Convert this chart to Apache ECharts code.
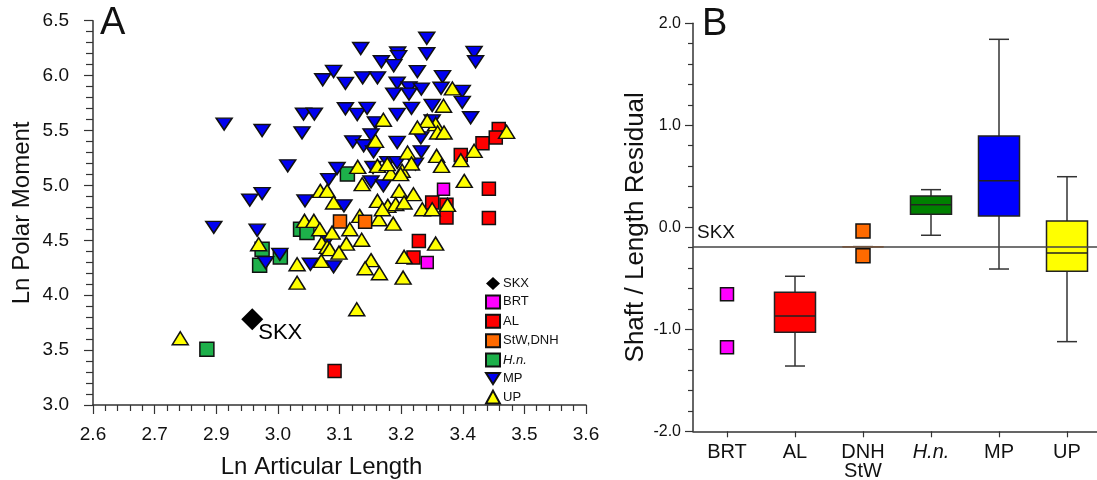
<!DOCTYPE html>
<html>
<head>
<meta charset="utf-8">
<title>Polar moment and shaft residual</title>
<script src="https://cdn.jsdelivr.net/npm/echarts@6/dist/echarts.min.js"></script>
<style>
  html, body { margin: 0; padding: 0; background: #fff; }
  #chart { width: 1097px; height: 480px; }
</style>
</head>
<body>
<div id="chart"></div>
<script>
// ---- panel A : Ln articular length vs Ln polar moment ----
var skx = [[2.923, 3.781]];
var brt = [[3.311, 4.966], [3.278, 4.297]];
var al = [[3.423, 5.513], [3.417, 5.436], [3.390, 5.383], [3.346, 5.278], [3.403, 4.969], [3.288, 4.844],
  [3.317, 4.823], [3.317, 4.707], [3.403, 4.704], [3.261, 4.494], [3.250, 4.344], [3.090, 3.309]];
var stwDnh = [[3.101, 4.672], [3.152, 4.670]];
var hn = [[3.116, 5.103], [3.021, 4.601], [3.034, 4.570], [2.943, 4.419], [2.938, 4.273], [2.980, 4.349], [2.831, 3.507]];
var mp = [[3.277, 6.340], [3.143, 6.247], [3.218, 6.206], [3.220, 6.172], [3.185, 6.126], [3.210, 6.090], [3.088, 6.038],
  [3.066, 5.962], [3.112, 5.930], [3.147, 5.980], [3.177, 5.980], [3.217, 5.932], [3.210, 5.832], [3.241, 5.889],
  [3.266, 5.877], [3.241, 5.832], [3.258, 6.037], [3.277, 6.199], [3.309, 5.990], [3.306, 5.885], [3.373, 6.211],
  [3.376, 6.126], [3.349, 5.857], [3.349, 5.757], [3.366, 5.616], [3.288, 5.728], [3.246, 5.702], [3.027, 5.650],
  [3.049, 5.650], [3.024, 5.479], [3.112, 5.698], [3.136, 5.646], [3.156, 5.702], [3.173, 5.570], [3.217, 5.646],
  [3.164, 5.461], [3.127, 5.397], [3.149, 5.361], [3.169, 5.306], [3.217, 5.391], [3.265, 5.433], [3.288, 5.588],
  [3.266, 5.306], [2.866, 5.558], [2.943, 5.500], [2.995, 5.178], [2.918, 4.866], [2.943, 4.926], [2.845, 4.618],
  [2.933, 4.592], [2.950, 4.297], [2.979, 4.372], [3.030, 4.859], [3.095, 5.154], [3.078, 5.053], [3.164, 5.032],
  [3.189, 4.996], [3.198, 5.208], [3.217, 5.208], [3.109, 4.814], [3.075, 4.501], [3.041, 4.282], [3.088, 4.258],
  [3.254, 5.194], [3.168, 5.163]];
var up = [[3.189, 5.598], [3.173, 5.406], [3.329, 5.883], [3.311, 5.725], [3.295, 5.558], [3.278, 5.588], [3.299, 5.482],
  [3.312, 5.482], [3.258, 5.527], [3.238, 5.299], [3.297, 5.269], [3.439, 5.488], [3.373, 5.315], [3.346, 5.230],
  [3.307, 5.178], [3.353, 5.041], [3.250, 4.920], [3.227, 5.133], [3.295, 4.470], [3.231, 4.349], [3.229, 4.160],
  [3.135, 3.872], [3.014, 4.282], [3.014, 4.114], [3.063, 4.312], [3.164, 4.319], [3.152, 4.245], [3.181, 4.200],
  [2.936, 4.464], [3.064, 4.476], [3.075, 4.440], [3.080, 4.420], [3.114, 4.470], [3.145, 4.505], [3.099, 4.388],
  [2.777, 3.608], [3.029, 4.677], [3.048, 4.677], [3.137, 5.169], [3.146, 5.011], [3.177, 5.178], [3.204, 5.108],
  [3.224, 5.103], [3.221, 4.950], [3.177, 4.859], [3.198, 4.814], [3.214, 4.829], [3.231, 4.844], [3.061, 4.950],
  [3.075, 4.950], [3.088, 4.844], [3.141, 4.722], [3.180, 4.692], [3.209, 4.652], [3.060, 4.601], [3.085, 4.570],
  [3.121, 4.601], [3.246, 5.199], [3.197, 5.194], [3.187, 4.783], [3.268, 4.783], [3.288, 4.783], [3.319, 4.823]];
var legendNames = ['SKX', 'BRT', 'AL', 'StW,DNH', 'H.n.', 'MP', 'UP'];
// printed tick labels (ticks every 0.125, rounded to one decimal)
var xTickLabels = ['2.6', '2.7', '2.9', '3.0', '3.1', '3.2', '3.4', '3.5', '3.6'];

// ---- panel B : shaft / length residual ----
var groups = ['BRT', 'AL', 'DNH\nStW', 'H.n.', 'MP', 'UP'];
var brtResid = [-0.657, -1.176];
var dnhResid = [-0.036, -0.278];
// [group index, min, q1, median, q3, max]
var boxes = [
  [1, -1.36, -1.03, -0.87, -0.637, -0.48],
  [2, -0.19, -0.19, -0.19, -0.19, -0.19],
  [3, -0.078, 0.127, 0.222, 0.307, 0.369],
  [4, -0.409, 0.111, 0.457, 0.895, 1.843],
  [5, -1.121, -0.431, -0.252, 0.062, 0.496]
];
var skxResid = -0.19;

var FONT = 'Liberation Sans, Arial, sans-serif';
var INK = '#111';
var boxFill = ['#ff0000', '#ff6a00', '#008000', '#0000ff', '#ffff00'];
var boxEdge = ['#222', '#ff8a3a', '#222', '#222', '#222'];
var downTri = 'path://M0,0 L10,0 L5,8 Z';

var chart = echarts.init(document.getElementById('chart'));

function pt(color, size, symbol) {
  return {
    symbol: symbol, symbolSize: size,
    itemStyle: { color: color, borderColor: '#111', borderWidth: 1.5, opacity: 1 },
    emphasis: { disabled: true }
  };
}

function renderBox(params, api) {
  var g = api.value(0);
  var lo = api.coord([g, api.value(1)]);
  var q1 = api.coord([g, api.value(2)]);
  var md = api.coord([g, api.value(3)]);
  var q3 = api.coord([g, api.value(4)]);
  var hi = api.coord([g, api.value(5)]);
  var cx = lo[0], bw = 41, cw = 20;
  var i = params.dataIndex;
  var wl = { stroke: '#333', lineWidth: 1.5 };
  return {
    type: 'group',
    children: [
      { type: 'line', shape: { x1: cx, y1: hi[1], x2: cx, y2: lo[1] }, style: wl },
      { type: 'line', shape: { x1: cx - cw / 2, y1: hi[1], x2: cx + cw / 2, y2: hi[1] }, style: wl },
      { type: 'line', shape: { x1: cx - cw / 2, y1: lo[1], x2: cx + cw / 2, y2: lo[1] }, style: wl },
      { type: 'rect', shape: { x: cx - bw / 2, y: q3[1], width: bw, height: q1[1] - q3[1] },
        style: { fill: boxFill[i], stroke: boxEdge[i], lineWidth: 1.5 } },
      { type: 'line', shape: { x1: cx - bw / 2, y1: md[1], x2: cx + bw / 2, y2: md[1] },
        style: { stroke: boxEdge[i], lineWidth: 1.5 } }
    ]
  };
}

var axisLine = { show: true, onZero: false, lineStyle: { color: '#333', width: 1.5 } };
var tickStyle = { color: '#333', width: 1.2 };

var option = {
  animation: false,
  textStyle: { fontFamily: FONT },
  graphic: [
    { type: 'text', x: 100, y: 5, style: { text: 'A', font: '38px ' + FONT, fill: INK } },
    { type: 'text', x: 702, y: 6, style: { text: 'B', font: '38px ' + FONT, fill: INK } }
  ],
  legend: {
    data: legendNames,
    orient: 'vertical', left: 485, top: 277, padding: 0,
    itemWidth: 14, itemHeight: 13, itemGap: 4.4, selectedMode: false,
    textStyle: { fontSize: 13, color: INK, fontFamily: FONT, padding: [0, 0, 0, -2],
      rich: { i: { fontStyle: 'italic', fontSize: 13, fontFamily: FONT, color: INK } } },
    formatter: function (n) { return n === 'H.n.' ? '{i|H.n.}' : n; }
  },
  grid: [
    { left: 93, top: 20.7, width: 493, height: 384.3, outerBoundsMode: 'none' },
    { left: 693, top: 23.3, width: 408, height: 408, outerBoundsMode: 'none' }
  ],
  xAxis: [
    {
      gridIndex: 0, type: 'value', min: 2.6, max: 3.6, interval: 0.125,
      axisLine: axisLine,
      axisTick: { show: true, length: 9, lineStyle: tickStyle },
      minorTick: { show: true, splitNumber: 5, length: 6, lineStyle: tickStyle },
      splitLine: { show: false },
      axisLabel: { fontSize: 19, color: INK, margin: 20,
        formatter: function (v, i) { return xTickLabels[i] || v.toFixed(1); } },
      name: 'Ln Articular Length', nameLocation: 'middle', nameGap: 50,
      nameTextStyle: { fontSize: 24, color: INK, padding: [0, 36, 0, 0] }
    },
    {
      gridIndex: 1, type: 'category', data: groups, boundaryGap: true,
      axisLine: axisLine,
      axisTick: { show: true, alignWithLabel: true, length: 6, lineStyle: tickStyle },
      splitLine: { show: false },
      axisLabel: { fontSize: 20, color: INK, margin: 12, lineHeight: 19, interval: 0,
        rich: { i: { fontStyle: 'italic', fontSize: 20, fontFamily: FONT, color: INK } },
        formatter: function (v) { return v === 'H.n.' ? '{i|H.n.}' : v; } }
    }
  ],
  yAxis: [
    {
      gridIndex: 0, type: 'value', min: 3, max: 6.5, interval: 0.5,
      axisLine: axisLine,
      axisTick: { show: true, length: 9, lineStyle: tickStyle },
      minorTick: { show: true, splitNumber: 5, length: 7, lineStyle: tickStyle },
      splitLine: { show: false },
      axisLabel: { fontSize: 19, color: INK, margin: 24, formatter: function (v) { return v.toFixed(1); } },
      name: 'Ln Polar Moment', nameLocation: 'middle', nameGap: 59,
      nameTextStyle: { fontSize: 24, color: INK }
    },
    {
      gridIndex: 1, type: 'value', min: -2, max: 2, interval: 1,
      axisLine: axisLine,
      axisTick: { show: true, length: 8, lineStyle: tickStyle },
      minorTick: { show: true, splitNumber: 5, length: 5, lineStyle: tickStyle },
      splitLine: { show: false },
      axisLabel: { fontSize: 16, color: INK, margin: 12, formatter: function (v) { return v.toFixed(1); } },
      name: 'Shaft / Length Residual', nameLocation: 'middle', nameGap: 44,
      nameTextStyle: { fontSize: 26, color: INK }
    }
  ],
  series: [
    Object.assign({ name: 'H.n.', type: 'scatter', xAxisIndex: 0, yAxisIndex: 0, data: hn, z: 2 }, pt('#1db04a', 14, 'rect')),
    Object.assign({ name: 'AL', type: 'scatter', xAxisIndex: 0, yAxisIndex: 0, data: al, z: 3 }, pt('#ff0000', 13, 'rect')),
    Object.assign({ name: 'BRT', type: 'scatter', xAxisIndex: 0, yAxisIndex: 0, data: brt, z: 3 }, pt('#ff00ff', 12, 'rect')),
    Object.assign({ name: 'MP', type: 'scatter', xAxisIndex: 0, yAxisIndex: 0, data: mp, z: 4 }, pt('#0000f0', [16, 12], downTri)),
    Object.assign({ name: 'UP', type: 'scatter', xAxisIndex: 0, yAxisIndex: 0, data: up, z: 5 }, pt('#ffff00', [16, 13], 'triangle')),
    Object.assign({ name: 'StW,DNH', type: 'scatter', xAxisIndex: 0, yAxisIndex: 0, data: stwDnh, z: 6 }, pt('#ff6a00', 13, 'rect')),
    {
      name: 'SKX', type: 'scatter', xAxisIndex: 0, yAxisIndex: 0, data: skx, z: 7,
      symbol: 'diamond', symbolSize: 22, itemStyle: { color: '#000', opacity: 1 },
      emphasis: { disabled: true },
      label: { show: true, formatter: 'SKX', position: 'right', distance: 0, offset: [-5, 14],
        fontSize: 22, color: '#000', opacity: 1, fontFamily: FONT }
    },
    {
      name: 'bBox', type: 'custom', xAxisIndex: 1, yAxisIndex: 1, data: boxes,
      renderItem: renderBox, encode: { x: 0, y: [1, 2, 3, 4, 5] }, z: 2
    },
    Object.assign({
      name: 'bBRT', type: 'scatter', xAxisIndex: 1, yAxisIndex: 1, z: 3,
      data: brtResid.map(function (v) { return [0, v]; })
    }, pt('#ff00ff', 13, 'rect')),
    Object.assign({
      name: 'bDNH', type: 'scatter', xAxisIndex: 1, yAxisIndex: 1, z: 6,
      data: dnhResid.map(function (v) { return [2, v]; }),
      markLine: {
        silent: true, symbol: 'none', animation: false,
        lineStyle: { color: '#444', type: 'solid', width: 1.5 },
        label: { show: true, formatter: 'SKX', position: 'insideStartTop', distance: 4,
          fontSize: 19, color: INK, fontFamily: FONT },
        data: [{ yAxis: skxResid }]
      }
    }, pt('#ff6a00', 14, 'rect'))
  ]
};

chart.setOption(option);
</script>
</body>
</html>
